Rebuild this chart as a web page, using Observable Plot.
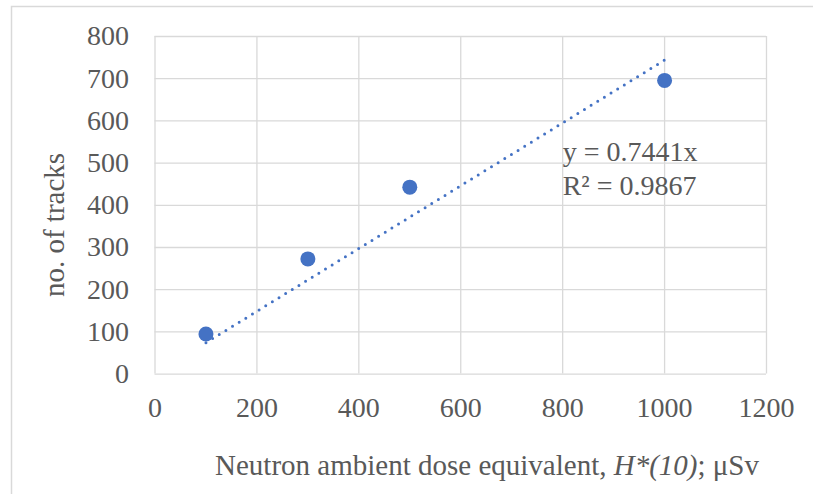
<!DOCTYPE html>
<html><head><meta charset="utf-8">
<script src="https://cdn.jsdelivr.net/npm/d3@7"></script>
<script src="https://cdn.jsdelivr.net/npm/@observablehq/plot@0.6"></script>
<style>body{margin:0;background:#fff;overflow:hidden}</style>
</head><body><div id="chart"></div>
<script>
const doses = [100, 300, 500, 1000];
const tracks = [95, 273, 443, 696];
const xTicks = [0, 200, 400, 600, 800, 1000, 1200];
const yTicks = [0, 100, 200, 300, 400, 500, 600, 700, 800];
const trendSlope = 0.7441;
const rSquared = 0.9867;
const trendRange = [100, 1000];
const equationLabel = ["y = " + trendSlope + "x", "R² = " + rSquared].join("\n");
const equationAnchor = {x: 800, y: 490};

const points = doses.map((d, i) => ({x: d, y: tracks[i]}));
const trend = trendRange.map(x => ({x, y: trendSlope * x}));

const blue = "#4472C4", grid = "#d9d9d9", ink = "#595959";

const svg = Plot.plot({
  width: 813, height: 494,
  marginLeft: 154.5, marginRight: 47, marginTop: 36, marginBottom: 120.4,
  style: {fontFamily: "'Liberation Serif', 'Times New Roman', serif", color: ink, background: "#fff"},
  x: {domain: [0, 1200]},
  y: {domain: [0, 800]},
  marks: [
    Plot.gridX(xTicks, {stroke: grid, strokeOpacity: 1, strokeWidth: 1.3}),
    Plot.gridY(yTicks, {stroke: grid, strokeOpacity: 1, strokeWidth: 1.3}),
    Plot.axisX(xTicks, {tickSize: 0, tickPadding: 23, fontSize: 28, fill: ink, label: null, tickFormat: d => String(d)}),
    Plot.axisY(yTicks, {tickSize: 0, tickPadding: 26, fontSize: 28, fill: ink, label: null, tickFormat: d => String(d)}),
    Plot.line(trend, {x: "x", y: "y", stroke: blue, strokeWidth: 3, strokeDasharray: "0 7.8", strokeLinecap: "round"}),
    Plot.dot(points, {x: "x", y: "y", r: 7.5, fill: blue, stroke: "none"}),
    Plot.text([equationAnchor], {x: "x", y: "y", text: () => equationLabel, textAnchor: "start", fontSize: 28, lineHeight: 1.2, fill: ink})
  ]
});

const s = d3.select(svg);
s.insert("path", ":first-child")
  .attr("d", "M11.5,494 V6.5 H813")
  .attr("fill", "none").attr("stroke", grid).attr("stroke-width", 1.5);

const xt = s.append("text")
  .attr("x", 487).attr("y", 475).attr("text-anchor", "middle")
  .attr("font-size", 29).attr("fill", ink);
xt.append("tspan").text("Neutron ambient dose equivalent, ");
xt.append("tspan").attr("font-style", "italic").text("H*(10)");
xt.append("tspan").text("; μSv");

s.append("text")
  .attr("transform", "translate(64,225) rotate(-90)")
  .attr("text-anchor", "middle")
  .attr("font-size", 29).attr("fill", ink)
  .text("no. of tracks");

document.getElementById("chart").appendChild(svg);
</script>
</body></html>
